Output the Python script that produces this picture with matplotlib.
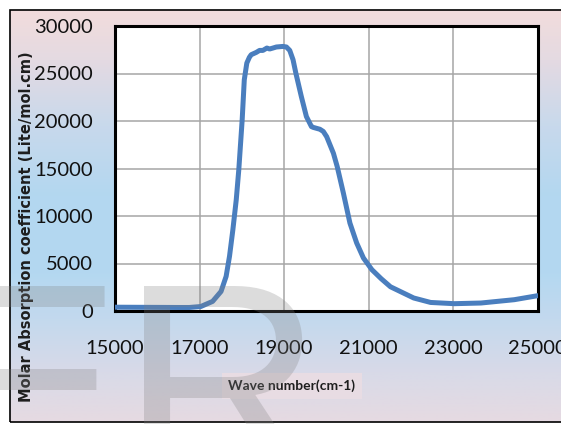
import numpy as np
import matplotlib.pyplot as plt
from matplotlib.colors import LinearSegmentedColormap
from matplotlib.patches import Rectangle

# absorption spectrum (wave number in cm-1, molar absorption coefficient)
wavenumber = [15000, 15500, 16000, 16500, 16760, 17030, 17310, 17510, 17630,
              17710, 17790, 17870, 17930, 18010, 18060, 18120, 18180, 18224,
              18343, 18421, 18500, 18595, 18660, 18738, 18819, 18976, 19057,
              19136, 19214, 19280, 19410, 19530, 19650, 19690, 19850, 19930,
              20010, 20170, 20260, 20405, 20560, 20720, 20880, 21080, 21300,
              21520, 22070, 22470, 23030, 23660, 24450, 25000]
absorption = [400, 390, 380, 370, 370, 470, 1010, 2060, 3640,
              5750, 8560, 11720, 14870, 20120, 24340, 26100, 26700, 26980,
              27220, 27430, 27430, 27680, 27580, 27680, 27790, 27850, 27790,
              27430, 26450, 25050, 22580, 20470, 19410, 19330, 19130, 18900,
              18350, 16600, 15190, 12420, 9260, 7160, 5580, 4350, 3400,
              2550, 1370, 900, 770, 840, 1190, 1610]

x_ticks = [15000, 17000, 19000, 21000, 23000, 25000]
y_ticks = [0, 5000, 10000, 15000, 20000, 25000, 30000]

W, H = 561, 424
fig = plt.figure(figsize=(W / 100, H / 100), dpi=100)

# panel background: pink at top, sky blue in the middle, lavender at bottom
bg = fig.add_axes([10 / W, 2 / H, 1 - 10 / W, 412 / H], zorder=-5)
bg_cmap = LinearSegmentedColormap.from_list("panel", [
    (0.00, "#e6dae2"),
    (0.12, "#d8dae8"),
    (0.25, "#c3d9ee"),
    (0.36, "#b4d8f1"),
    (0.55, "#b3d7f0"),
    (0.72, "#c8d9ec"),
    (0.88, "#e4dae2"),
    (1.00, "#f2dcdc"),
])
bg.imshow(np.linspace(0, 1, 256).reshape(-1, 1), cmap=bg_cmap,
          aspect="auto", origin="lower", extent=[0, 1, 0, 1])
bg.set_axis_off()

fig.patches.append(Rectangle((10 / W, 2 / H), 1.0, 412 / H,
                             transform=fig.transFigure, fill=False,
                             edgecolor="black", linewidth=1.2, zorder=-4))

ax = fig.add_axes([115 / W, 113 / H, 422.5 / W, 285 / H])
ax.set_facecolor("white")
ax.plot(wavenumber, absorption, color="#4a7ebe", linewidth=3.6,
        solid_capstyle="round", solid_joinstyle="round", zorder=3)

ax.set_xlim(15000, 25000)
ax.set_ylim(0, 30000)
ax.set_xticks(x_ticks)
ax.set_yticks(y_ticks)
ax.grid(True, color="#a6a6a6", linewidth=1.1)
ax.set_axisbelow(True)
for side in ["top", "bottom", "left", "right"]:
    ax.spines[side].set_linewidth(2.2)
    ax.spines[side].set_color("black")

ax.tick_params(axis="both", length=0, labelsize=14.5, labelcolor="#111111")
ax.tick_params(axis="x", pad=21)
ax.tick_params(axis="y", pad=16)
for lbl in ax.get_xticklabels() + ax.get_yticklabels():
    lbl.set_fontfamily("Lato")

fig.text(27 / W, (H - 227) / H, "Molar Absorption coefficient (Lite/mol.cm)",
         rotation=90, ha="center", va="center", fontsize=10.5,
         fontweight="bold", family="DejaVu Sans", color="#1e1e1e")
fig.text(292 / W, (H - 386) / H, "Wave number(cm-1)", ha="center",
         va="center", fontsize=10, fontweight="bold", family="Lato",
         color="#1e1e1e",
         bbox=dict(boxstyle="square,pad=0.45", facecolor="#e8dce3",
                   edgecolor="none"))

# faint watermark letters across the lower left
fig.text(-65 / W, (H - 478) / H, "ER", family="Liberation Sans",
         fontsize=201, color="#808080", alpha=0.27, ha="left",
         va="baseline", zorder=10)

fig.savefig("out.png", dpi=100)
